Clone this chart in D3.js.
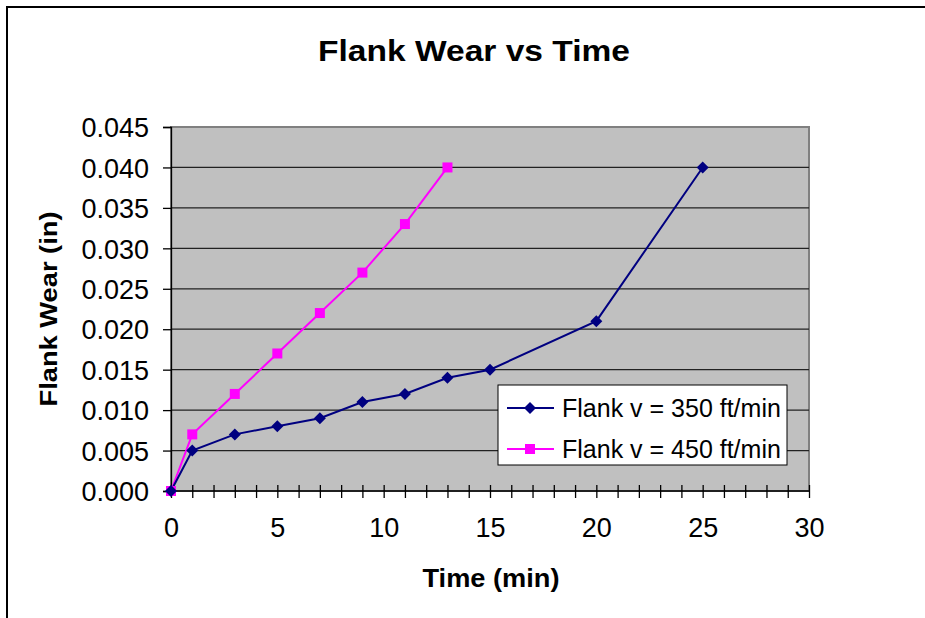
<!DOCTYPE html>
<html>
<head>
<meta charset="utf-8">
<script src="https://cdn.jsdelivr.net/npm/d3@7"></script>
<style>
  html, body { margin: 0; padding: 0; background: #fff; }
  svg { display: block; font-family: "Liberation Sans", Arial, sans-serif; }
</style>
</head>
<body>
<svg id="chart" width="925" height="618"></svg>
<script>
// ---- data ----
const time350 = [0, 1, 3, 5, 7, 9, 11, 13, 15, 20, 25];
const wear350 = [0, 0.005, 0.007, 0.008, 0.009, 0.011, 0.012, 0.014, 0.015, 0.021, 0.040];
const time450 = [0, 1, 3, 5, 7, 9, 11, 13];
const wear450 = [0, 0.007, 0.012, 0.017, 0.022, 0.027, 0.033, 0.040];
const seriesNames = ["Flank v = 350 ft/min", "Flank v = 450 ft/min"];
const xTicks = [0, 5, 10, 15, 20, 25, 30];
const yTicks = [0, 0.005, 0.010, 0.015, 0.020, 0.025, 0.030, 0.035, 0.040, 0.045];
const titleText = "Flank Wear vs Time";
const xTitle = "Time (min)";
const yTitle = "Flank Wear (in)";

const svg = d3.select("#chart");
const L = 171, R = 809, T = 127, B = 491;

const x = d3.scaleLinear().domain([0, 30]).range([L, R]);
const y = d3.scaleLinear().domain([0, 0.045]).range([B, T]);

// outer frame
svg.append("rect").attr("x", 7).attr("y", 7).attr("width", 930).attr("height", 630)
  .attr("fill", "#fff").attr("stroke", "#000").attr("stroke-width", 2);

// plot area
svg.append("rect").attr("x", L).attr("y", T).attr("width", R - L).attr("height", B - T)
  .attr("fill", "#C0C0C0").attr("stroke", "#808080").attr("stroke-width", 2);

// gridlines
svg.append("g").selectAll("line").data(yTicks.filter(d => d > 0 && d < 0.045)).join("line")
  .attr("x1", L).attr("x2", R).attr("y1", d => y(d)).attr("y2", d => y(d))
  .attr("stroke", "#222").attr("stroke-width", 1.3);

// y axis
const yAxis = d3.axisLeft(y).tickValues(yTicks).tickFormat(d3.format(".3f")).tickSize(8).tickPadding(14);
const gy = svg.append("g").attr("transform", `translate(${L},0)`).call(yAxis);
gy.select(".domain").attr("stroke", "#000").attr("stroke-width", 1.3);
gy.selectAll(".tick line").attr("stroke", "#000").attr("stroke-width", 1.3);
gy.selectAll(".tick text").attr("font-size", 27).attr("fill", "#000")
  .attr("font-family", "Liberation Sans, Arial, sans-serif").attr("dy", "0.36em");

// x axis: minor ticks each unit crossing the axis
const xAxis = d3.axisBottom(x).tickValues(d3.range(0, 31)).tickSize(7).tickFormat("");
const gx = svg.append("g").attr("transform", `translate(0,${B})`).call(xAxis);
gx.select(".domain").attr("stroke", "#000").attr("stroke-width", 1.3).attr("d", `M${L},0H${R}`);
gx.selectAll(".tick line").attr("y1", -6).attr("y2", 7).attr("stroke", "#000").attr("stroke-width", 1.3);

const xLab = d3.axisBottom(x).tickValues(xTicks).tickSize(0).tickPadding(27);
const gxl = svg.append("g").attr("transform", `translate(0,${B})`).call(xLab);
gxl.select(".domain").remove();
gxl.selectAll(".tick text").attr("font-size", 27).attr("fill", "#000")
  .attr("font-family", "Liberation Sans, Arial, sans-serif");

// lines
const data350 = time350.map((t, i) => [t, wear350[i]]);
const data450 = time450.map((t, i) => [t, wear450[i]]);
const line = d3.line().x(d => x(d[0])).y(d => y(d[1]));

svg.append("path").datum(data450).attr("d", line).attr("fill", "none")
  .attr("stroke", "#FF00FF").attr("stroke-width", 2);
svg.append("path").datum(data350).attr("d", line).attr("fill", "none")
  .attr("stroke", "#000080").attr("stroke-width", 2);

function diamond(g, cx, cy, s) {
  g.append("path").attr("d", `M${cx},${cy - s}L${cx + s},${cy}L${cx},${cy + s}L${cx - s},${cy}Z`)
    .attr("fill", "#000080");
}
function square(g, cx, cy, s) {
  g.append("rect").attr("x", cx - s).attr("y", cy - s).attr("width", 2 * s).attr("height", 2 * s)
    .attr("fill", "#FF00FF");
}
const mk450 = svg.append("g");
data450.forEach(d => square(mk450, x(d[0]), y(d[1]), 5));
const mk350 = svg.append("g");
data350.forEach(d => diamond(mk350, x(d[0]), y(d[1]), 6));

// legend
const lg = svg.append("g");
lg.append("rect").attr("x", 498).attr("y", 385).attr("width", 289).attr("height", 80)
  .attr("fill", "#fff").attr("stroke", "#000").attr("stroke-width", 1);
const rows = [
  { name: seriesNames[0], color: "#000080", y: 408, type: "d" },
  { name: seriesNames[1], color: "#FF00FF", y: 449, type: "s" }
];
rows.forEach(r => {
  lg.append("line").attr("x1", 507).attr("x2", 554).attr("y1", r.y).attr("y2", r.y)
    .attr("stroke", r.color).attr("stroke-width", 2);
  if (r.type === "d") diamond(lg, 530, r.y, 6); else square(lg, 530, r.y, 5);
  lg.append("text").attr("x", 562).attr("y", r.y + 9).attr("font-size", 25).attr("fill", "#000")
    .text(r.name);
});

// titles
svg.append("text").attr("x", 474).attr("y", 61).attr("text-anchor", "middle")
  .attr("font-size", 29).attr("font-weight", "bold").attr("fill", "#000")
  .attr("textLength", 312).attr("lengthAdjust", "spacingAndGlyphs").text(titleText);
svg.append("text").attr("x", 491).attr("y", 587).attr("text-anchor", "middle")
  .attr("font-size", 25).attr("font-weight", "bold").attr("fill", "#000")
  .attr("textLength", 137).attr("lengthAdjust", "spacingAndGlyphs").text(xTitle);
svg.append("text").attr("transform", "translate(57,309) rotate(-90)").attr("text-anchor", "middle")
  .attr("font-size", 24).attr("font-weight", "bold").attr("fill", "#000")
  .attr("textLength", 195).attr("lengthAdjust", "spacingAndGlyphs").text(yTitle);
</script>
</body>
</html>
